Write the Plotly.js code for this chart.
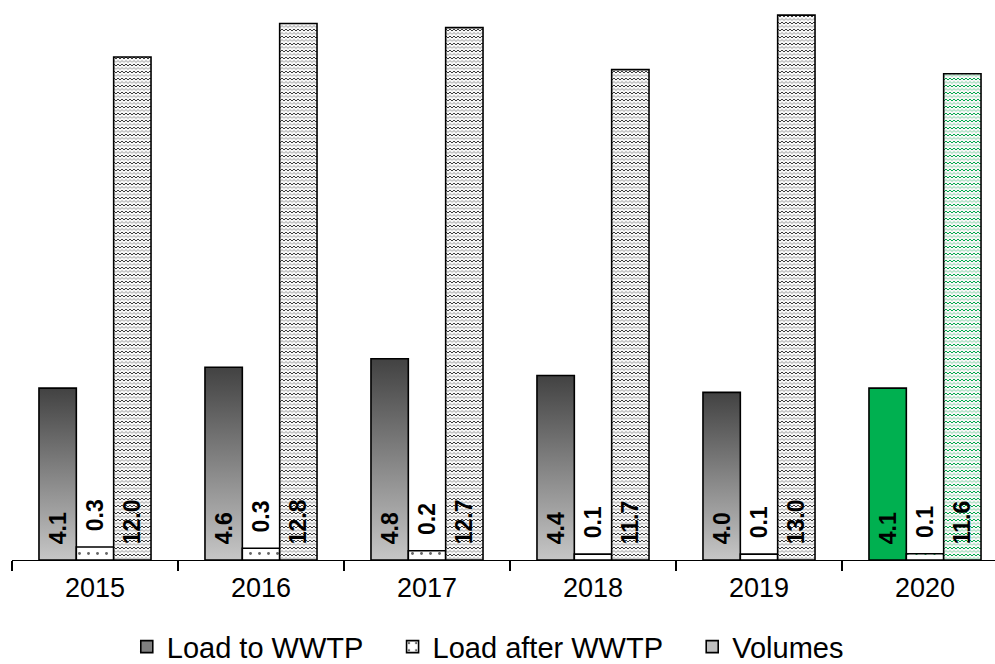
<!DOCTYPE html>
<html>
<head>
<meta charset="utf-8">
<script src="https://cdn.plot.ly/plotly-3.0.1.min.js"></script>
<style>
html,body{margin:0;padding:0;background:#fff;overflow:hidden;}
#chart{width:995px;height:664px;}
</style>
</head>
<body>
<div id="chart"></div>
<script>
const years = ['2015', '2016', '2017', '2018', '2019', '2020'];
const loadToWWTP = [4.1, 4.6, 4.8, 4.4, 4.0, 4.1];
const loadAfterWWTP = [0.31, 0.28, 0.22, 0.14, 0.14, 0.15];
const volumes = [12.0, 12.8, 12.7, 11.7, 13.0, 11.6];
const seriesNames = ['Load to WWTP', 'Load after WWTP', 'Volumes'];

const GREEN = '#00B050';
const FONT = 'Liberation Sans, Arial, sans-serif';
const labelFont = {family: FONT, size: 23, color: '#000', weight: 'bold'};
const outline = {color: '#000', width: 1.6};
const PAD = '\u00a0\u00a0\u00a0';

const traces = [
  {
    type: 'bar', name: seriesNames[0] + PAD, x: years, y: loadToWWTP,
    marker: {color: ['#808080', '#808080', '#808080', '#808080', '#808080', GREEN], line: outline},
    texttemplate: '\u00a0\u00a0%{y:.1f}', textposition: 'inside', insidetextanchor: 'start',
    textangle: -90, insidetextfont: labelFont, textfont: labelFont, constraintext: 'none',
    hoverinfo: 'none'
  },
  {
    type: 'bar', name: seriesNames[1] + PAD, x: years, y: loadAfterWWTP,
    marker: {color: '#ffffff', line: outline,
      pattern: {shape: '.', fgcolor: ['#666', '#666', '#666', '#666', '#666', GREEN], bgcolor: '#ffffff', size: 9, solidity: 0.08}},
    texttemplate: '\u00a0\u00a0%{y:.1f}', textposition: 'outside',
    textangle: -90, outsidetextfont: labelFont, textfont: labelFont, constraintext: 'none',
    cliponaxis: false, hoverinfo: 'none'
  },
  {
    type: 'bar', name: seriesNames[2], x: years, y: volumes,
    marker: {color: ['#c0c0c0', '#c0c0c0', '#c0c0c0', '#c0c0c0', '#c0c0c0', '#9fe0bb'], line: outline},
    texttemplate: '\u00a0\u00a0%{y:.1f}', textposition: 'inside', insidetextanchor: 'start',
    textangle: -90, insidetextfont: labelFont, textfont: labelFont, constraintext: 'none',
    hoverinfo: 'none'
  }
];

const layout = {
  width: 995, height: 664,
  margin: {l: 12, r: 0, t: 0, b: 104, pad: 0, autoexpand: false},
  paper_bgcolor: '#ffffff', plot_bgcolor: '#ffffff',
  barmode: 'group', bargap: 0.325, bargroupgap: 0,
  showlegend: true,
  legend: {orientation: 'h', x: 0.484, xanchor: 'center', y: -0.155, yanchor: 'middle',
    font: {family: FONT, size: 29, color: '#000'}, itemwidth: 30, tracegroupgap: 0},
  xaxis: {
    type: 'category', range: [-0.5, 5.4217], showline: true, linecolor: '#000', linewidth: 1.2,
    ticks: 'outside', tickson: 'boundaries', ticklen: 10, tickcolor: '#000', tickwidth: 1.2,
    tickfont: {family: FONT, size: 27, color: '#000'}, ticklabelstandoff: 3,
    showgrid: false, zeroline: false, fixedrange: true, automargin: false
  },
  yaxis: {range: [0, 13.36], visible: false, showgrid: false, zeroline: false, fixedrange: true}
};

function svgEl(tag, attrs) {
  const e = document.createElementNS('http://www.w3.org/2000/svg', tag);
  for (const k in attrs) e.setAttribute(k, attrs[k]);
  return e;
}

function addDefs() {
  const defs = document.querySelector('#chart .main-svg defs');
  const g = svgEl('linearGradient', {id: 'gradLoad', x1: '0', y1: '0', x2: '0', y2: '1'});
  g.appendChild(svgEl('stop', {offset: '0', 'stop-color': '#424242'}));
  g.appendChild(svgEl('stop', {offset: '1', 'stop-color': '#c6c6c6'}));
  defs.appendChild(g);
  function zig(id, dark, light) {
    const p = svgEl('pattern', {id: id, patternUnits: 'userSpaceOnUse', width: '8', height: '7'});
    p.appendChild(svgEl('rect', {x: 0, y: 0, width: 8, height: 7, fill: '#f6f6f6'}));
    p.appendChild(svgEl('path', {d: 'M0,3 L2,1 L4,3 L6,1 L8,3', stroke: dark, 'stroke-width': '1', fill: 'none'}));
    p.appendChild(svgEl('path', {d: 'M0,6.5 L2,4.5 L4,6.5 L6,4.5 L8,6.5', stroke: light, 'stroke-width': '1', fill: 'none'}));
    defs.appendChild(p);
  }
  zig('zigGray', '#3a3a3a', '#999999');
  zig('zigGreen', '#00a84a', '#7ed3a2');
}

function restyleFills() {
  const tr = document.querySelectorAll('#chart .barlayer .trace.bars');
  if (tr.length >= 3) {
    tr[0].querySelectorAll('.point path').forEach((p, i) => { if (i < 5) p.style.fill = 'url(#gradLoad)'; });
    tr[2].querySelectorAll('.point path').forEach((p, i) => {
      p.style.fill = i < 5 ? 'url(#zigGray)' : 'url(#zigGreen)'; p.style.fillOpacity = 1;
    });
  }
  document.querySelectorAll('#chart .legend .traces').forEach((t, i) => {
    t.querySelectorAll('path.legendbar').forEach(p => {
      p.setAttribute('d', 'M8,8H-8V-8H8Z');
      if (i === 0) p.style.fill = 'url(#gradLoad)';
      if (i === 2) p.style.fill = 'url(#zigGray)';
    });
  });
}

Plotly.newPlot('chart', traces, layout, {staticPlot: true, displayModeBar: false}).then(() => {
  addDefs();
  restyleFills();
});
</script>
</body>
</html>
